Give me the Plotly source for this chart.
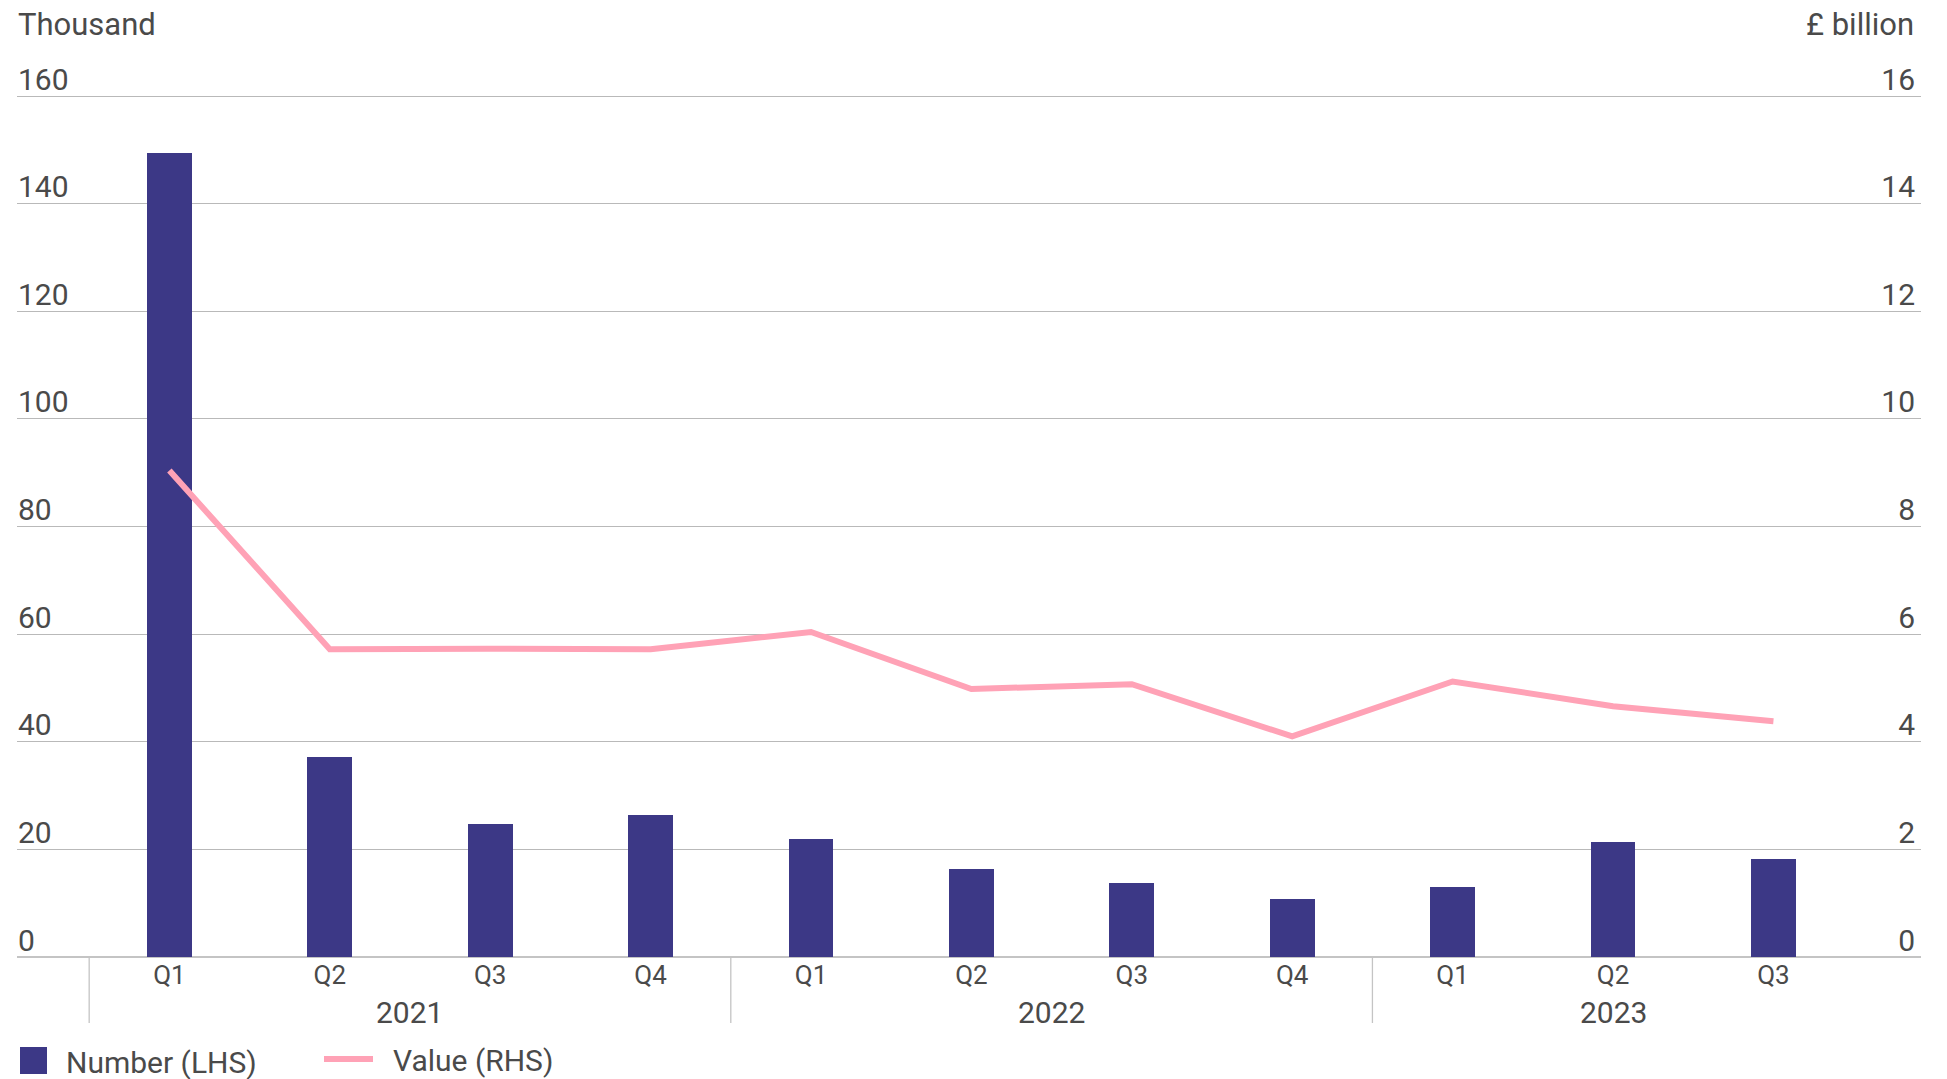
import plotly.graph_objects as go

# Quarterly figures, 2021 Q1 – 2023 Q3
years = ["2021"] * 4 + ["2022"] * 4 + ["2023"] * 3
quarters = ["Q1", "Q2", "Q3", "Q4", "Q1", "Q2", "Q3", "Q4", "Q1", "Q2", "Q3"]
number_thousand = [149.4, 37.1, 24.7, 26.3, 21.9, 16.4, 13.8, 10.8, 13.1, 21.4, 18.2]
value_bn = [9.04, 5.72, 5.73, 5.72, 6.04, 4.98, 5.07, 4.10, 5.12, 4.66, 4.38]
left_ticks = [0, 20, 40, 60, 80, 100, 120, 140, 160]
right_ticks = [0, 2, 4, 6, 8, 10, 12, 14, 16]

BAR = "#3c3886"
LINE = "#ffa2b6"
GRID = "#b9b9b9"
TEXT = "#4a4a4a"
FONT = "Roboto, Arial, sans-serif"

W, H = 1947, 1079
M_L, M_R = 17, 26
GRID_TOP, ZERO_Y = 96, 957          # pixel rows of the top gridline and the zero line
PAD_T, PAD_B = 44, 10               # room inside the plot for the inside tick labels
M_T = GRID_TOP - PAD_T
M_B = H - (ZERO_Y + PAD_B)
PW, PH = W - M_L - M_R, H - M_T - M_B
PX_PER_GRID = (ZERO_Y - GRID_TOP)


def px_x(x):
    return (x - M_L) / PW


def px_y(y):
    return (H - M_B - y) / PH


def axis_range(top):
    unit = PX_PER_GRID / top
    return [-PAD_B / unit, top + PAD_T / unit]


idx = list(range(len(quarters)))

fig = go.Figure()
fig.add_trace(go.Bar(
    x=idx, y=number_thousand, name="Number (LHS)",
    marker=dict(color=BAR, line=dict(width=0)), width=0.28,
    showlegend=False,
))
fig.add_trace(go.Scatter(
    x=idx, y=value_bn, name="Value (RHS)", yaxis="y2", mode="lines",
    line=dict(color=LINE, width=6), showlegend=False,
))

# Year group labels and dividers below the axis
group_bounds = {}
for i, yr in enumerate(years):
    group_bounds.setdefault(yr, []).append(i)
shapes = []
annotations = []
for yr, members in group_bounds.items():
    centre = (members[0] + members[-1]) / 2
    annotations.append(dict(
        x=centre, xref="x", y=px_y(1012), yref="paper", text=yr,
        showarrow=False, font=dict(size=30, color=TEXT, family=FONT),
        xanchor="center", yanchor="middle",
    ))
for start in [m[0] for m in group_bounds.values()]:
    shapes.append(dict(
        type="line", xref="x", yref="paper", x0=start - 0.5, x1=start - 0.5,
        y0=px_y(ZERO_Y), y1=px_y(1023), line=dict(color="#c4c4c4", width=1.3),
    ))

# Axis unit captions
annotations.append(dict(
    x=px_x(16), y=px_y(25), xref="paper", yref="paper", text="Thousand",
    showarrow=False, xanchor="left", yanchor="middle",
    font=dict(size=31, color=TEXT, family=FONT),
))
annotations.append(dict(
    x=px_x(1916), y=px_y(25), xref="paper", yref="paper", text="£ billion",
    showarrow=False, xanchor="right", yanchor="middle",
    font=dict(size=31, color=TEXT, family=FONT),
))

# Legend drawn below the chart
shapes.append(dict(
    type="rect", xref="paper", yref="paper",
    x0=px_x(20), x1=px_x(47), y0=px_y(1074), y1=px_y(1047),
    fillcolor=BAR, line=dict(width=0),
))
shapes.append(dict(
    type="line", xref="paper", yref="paper",
    x0=px_x(324), x1=px_x(373), y0=px_y(1059), y1=px_y(1059),
    line=dict(color=LINE, width=6),
))
annotations.append(dict(
    x=px_x(64), y=px_y(1062), xref="paper", yref="paper", text="Number (LHS)",
    showarrow=False, xanchor="left", yanchor="middle",
    font=dict(size=30, color=TEXT, family=FONT),
))
annotations.append(dict(
    x=px_x(391), y=px_y(1060), xref="paper", yref="paper", text="Value (RHS)",
    showarrow=False, xanchor="left", yanchor="middle",
    font=dict(size=30, color=TEXT, family=FONT),
))

fig.update_layout(
    width=W, height=H,
    margin=dict(l=M_L, r=M_R, t=M_T, b=M_B, autoexpand=False),
    paper_bgcolor="white", plot_bgcolor="white",
    font=dict(family=FONT, color=TEXT, size=30),
    bargap=0,
    xaxis=dict(
        range=[-0.95, 10.92], tickmode="array", tickvals=idx, ticktext=quarters,
        showgrid=False, zeroline=False, showline=False, ticks="",
        ticklabelstandoff=-PAD_B,
        tickfont=dict(size=26, color=TEXT, family=FONT), automargin=False,
    ),
    yaxis=dict(
        range=axis_range(left_ticks[-1]), tickvals=left_ticks, showgrid=True,
        gridcolor=GRID, gridwidth=1.3, zeroline=True, zerolinecolor="#c4c4c4",
        zerolinewidth=2, showline=False, ticks="", ticklabelposition="inside top",
        ticklabelshift=4, ticklabelstandoff=-2,
        tickfont=dict(size=30, color=TEXT, family=FONT), automargin=False,
    ),
    yaxis2=dict(
        range=axis_range(right_ticks[-1]), tickvals=right_ticks, overlaying="y",
        side="right", showgrid=False, zeroline=False, showline=False, ticks="",
        ticklabelposition="inside top", ticklabelshift=4, ticklabelstandoff=3,
        tickfont=dict(size=30, color=TEXT, family=FONT), automargin=False,
    ),
    shapes=shapes, annotations=annotations,
)

fig.write_html("out.html")
